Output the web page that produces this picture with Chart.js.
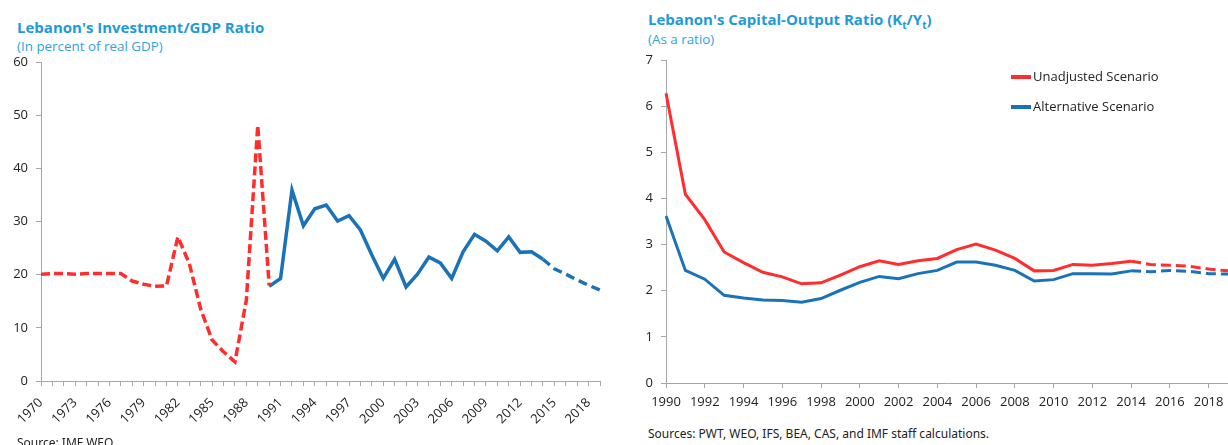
<!DOCTYPE html>
<html>
<head>
<meta charset="utf-8">
<script src="https://cdn.jsdelivr.net/npm/chart.js@4.4.1/dist/chart.umd.min.js"></script>
<style>
    body { margin: 0; background: #fff; width: 1228px; height: 445px; overflow: hidden; position: relative; font-family: "Open Sans", "Noto Sans", sans-serif; }
    .title { position: absolute; color: #1f9ad8; font-weight: bold; font-size: 15px; white-space: nowrap; }
    .sub { position: absolute; color: #2ea4dc; font-size: 13.4px; white-space: nowrap; }
    .src { position: absolute; color: #222; font-size: 12px; white-space: nowrap; font-family: "Liberation Sans Narrow", "Noto Sans", sans-serif; }
    .box { position: absolute; }
    .legend { position: absolute; left: 1011px; font-size: 13px; color: #222; white-space: nowrap; }
    .legend span.sw { display: inline-block; width: 20px; height: 4px; vertical-align: middle; margin-right: 2px; position: relative; top: -1px; }
</style>
</head>
<body>
<div class="title" style="left:17px; top:17px;">Lebanon's Investment/GDP Ratio</div>
<div class="sub" style="left:17px; top:37px;">(In percent of real GDP)</div>
<div class="title" style="left:648px; top:9px;">Lebanon's Capital-Output Ratio (K<sub style="font-size:10px">t</sub>/Y<sub style="font-size:10px">t</sub>)</div>
<div class="sub" style="left:648px; top:30px;">(As a ratio)</div>

<div class="box" style="left:0; top:50px; width:610px; height:395px;"><canvas id="invChart"></canvas></div>
<div class="box" style="left:620px; top:50px; width:608px; height:370px;"><canvas id="kyChart"></canvas></div>

<div class="legend" style="top:67px;"><span class="sw" style="background:#ff2d2d"></span>Unadjusted Scenario</div>
<div class="legend" style="top:97px;"><span class="sw" style="background:#1a72b8"></span>Alternative Scenario</div>

<div class="src" style="left:17px; top:434px;">Source: IMF WEO</div>
<div class="src" style="left:648px; top:425px;">Sources: PWT, WEO, IFS, BEA, CAS, and IMF staff calculations.</div>

<script>
// left chart: investment / GDP, 1970-2019
const invYears = [];
for (let y = 1970; y <= 2019; y++) invYears.push(String(y));

// war years (dashed red), 1970-1990
const invPreWar = [20.1, 20.2, 20.2, 20.1, 20.2, 20.2, 20.2, 20.2, 18.8, 18.2,
                   17.8, 17.9, 27.1, 22.1, 13.5, 7.7, 5.5, 3.6, 15.2, 48.1, 18.0];
// post-war (blue), 1990-2019, projections from 2014
const invPostWar = [17.8, 19.3, 35.9, 29.2, 32.4, 33.1, 30.1, 31.1, 28.4, 23.7,
                    19.3, 22.9, 17.7, 20.1, 23.3, 22.2, 19.3, 24.3, 27.6, 26.3,
                    24.5, 27.1, 24.2, 24.3, 22.9, 21.1, 20.1, 19.0, 18.0, 17.1];

// right chart: capital-output ratio, 1990-2019
const kyYears = [];
for (let y = 1990; y <= 2019; y++) kyYears.push(String(y));
const kyUnadjusted = [6.28, 4.09, 3.54, 2.84, 2.61, 2.40, 2.30, 2.15, 2.17, 2.34,
                      2.52, 2.65, 2.57, 2.65, 2.70, 2.89, 3.01, 2.88, 2.70, 2.43,
                      2.44, 2.57, 2.55, 2.59, 2.64, 2.57, 2.55, 2.53, 2.47, 2.43];
const kyAlternative = [3.62, 2.44, 2.25, 1.90, 1.84, 1.80, 1.79, 1.75, 1.83, 2.01,
                       2.18, 2.31, 2.26, 2.37, 2.44, 2.62, 2.62, 2.55, 2.44, 2.21,
                       2.24, 2.37, 2.37, 2.36, 2.43, 2.41, 2.44, 2.42, 2.37, 2.36];

const projStart = '2014';
const RED = '#ff2d2d';
const BLUE = '#1a72b8';
const AXIS = '#a6a6a6';
const FONT = "'Open Sans', 'Noto Sans', sans-serif";

Chart.defaults.font.family = FONT;
Chart.defaults.color = '#222';
Chart.defaults.animation = false;

function fixSize(w, h) {
    return function(scale) {
        if (w !== null) scale.width = w;
        if (h !== null) scale.height = h;
        scale.paddingLeft = 0;
        scale.paddingRight = 0;
        scale.paddingTop = 0;
        scale.paddingBottom = 0;
    };
}

// build full-length series for the category axis
const redSeries = invYears.map((y, i) => i < invPreWar.length ? invPreWar[i] : null);
const blueSeries = invYears.map((y, i) => {
    const j = i - (invPreWar.length - 1);
    return j >= 0 ? invPostWar[j] : null;
});
const invProjIdx = invYears.indexOf(projStart);

new Chart(document.getElementById('invChart'), {
    type: 'line',
    data: {
        labels: invYears,
        datasets: [{
            label: 'War years',
            data: redSeries,
            borderColor: RED,
            borderWidth: 3.5,
            borderDash: [9, 4],
            pointRadius: 0,
            tension: 0,
            spanGaps: false
        }, {
            label: 'Post-war',
            data: blueSeries,
            borderColor: BLUE,
            borderWidth: 3.5,
            pointRadius: 0,
            tension: 0,
            segment: {
                borderDash: ctx => ctx.p0DataIndex >= invProjIdx ? [9, 5] : undefined
            }
        }]
    },
    options: {
        responsive: true,
        maintainAspectRatio: false,
        layout: { padding: { top: 12, right: 10, left: 0, bottom: 0 } },
        plugins: { legend: { display: false }, tooltip: { enabled: false } },
        scales: {
            x: {
                offset: false,
                afterFit: fixSize(null, 64),
                grid: { drawOnChartArea: false, drawTicks: true, tickLength: 5, tickColor: AXIS },
                border: { color: AXIS, width: 1 },
                ticks: {
                    autoSkip: false,
                    maxRotation: 45,
                    minRotation: 45,
                    padding: 9,
                    font: { size: 13 },
                    callback: function(value, index) {
                        return index % 3 === 0 ? invYears[index] : '';
                    }
                }
            },
            y: {
                min: 0,
                max: 60,
                afterFit: fixSize(41, null),
                grid: { drawOnChartArea: false, drawTicks: true, tickLength: 5, tickColor: AXIS },
                border: { color: AXIS, width: 1 },
                ticks: { stepSize: 10, padding: 8, font: { size: 13 } }
            }
        }
    }
});

const kyProjIdx = kyYears.indexOf(projStart);
const dashAfter = ctx => ctx.p0DataIndex >= kyProjIdx ? [10, 5] : undefined;

new Chart(document.getElementById('kyChart'), {
    type: 'line',
    data: {
        labels: kyYears,
        datasets: [{
            label: 'Unadjusted Scenario',
            data: kyUnadjusted,
            borderColor: RED,
            borderWidth: 3,
            pointRadius: 0,
            tension: 0,
            segment: { borderDash: dashAfter }
        }, {
            label: 'Alternative Scenario',
            data: kyAlternative,
            borderColor: BLUE,
            borderWidth: 3,
            pointRadius: 0,
            tension: 0,
            segment: { borderDash: dashAfter }
        }]
    },
    options: {
        responsive: true,
        maintainAspectRatio: false,
        layout: { padding: { top: 10, right: 0, left: 0, bottom: 0 } },
        plugins: { legend: { display: false }, tooltip: { enabled: false } },
        scales: {
            x: {
                offset: false,
                afterFit: fixSize(null, 37),
                grid: {
                    drawOnChartArea: false,
                    drawTicks: true,
                    tickLength: 5,
                    tickColor: ctx => ctx.index % 2 === 0 ? AXIS : 'rgba(0,0,0,0)'
                },
                border: { color: AXIS, width: 1 },
                ticks: {
                    autoSkip: false,
                    maxRotation: 0,
                    minRotation: 0,
                    padding: 6,
                    font: { size: 13 },
                    callback: function(value, index) {
                        return index % 2 === 0 ? kyYears[index] : '';
                    }
                }
            },
            y: {
                min: 0,
                max: 7,
                afterFit: fixSize(46, null),
                grid: { drawOnChartArea: false, drawTicks: true, tickLength: 5, tickColor: AXIS },
                border: { color: AXIS, width: 1 },
                ticks: { stepSize: 1, padding: 8, font: { size: 13 } }
            }
        }
    }
});
</script>
</body>
</html>
